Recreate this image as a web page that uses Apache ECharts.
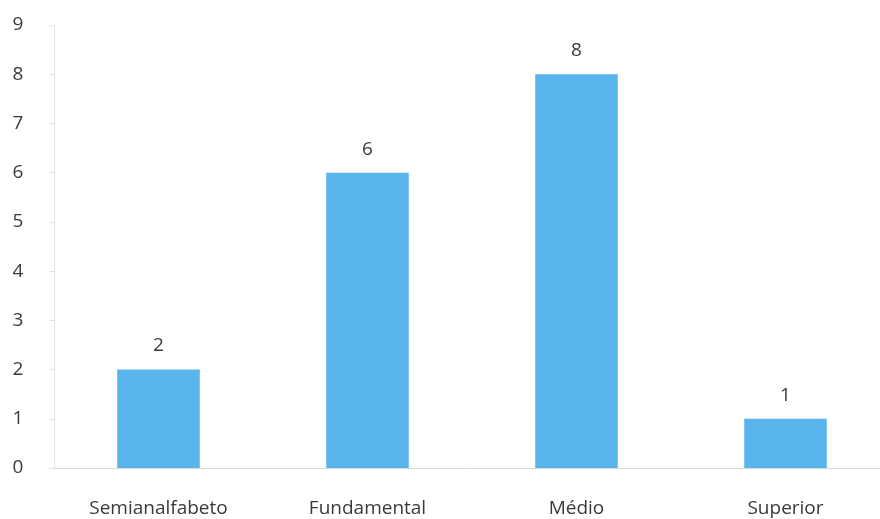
<!DOCTYPE html>
<html>
<head>
<meta charset="utf-8">
<script src="https://cdn.jsdelivr.net/npm/echarts@6/dist/echarts.min.js"></script>
<style>
  html, body { margin: 0; padding: 0; background: #fff; }
  #chart { width: 880px; height: 519px; }
</style>
</head>
<body>
<div id="chart"></div>
<script>
const categories = ["Semianalfabeto", "Fundamental", "Médio", "Superior"];
const values = [2, 6, 8, 1];
const yTicks = [0, 1, 2, 3, 4, 5, 6, 7, 8, 9];

const chart = echarts.init(document.getElementById("chart"));

chart.setOption({
  animation: false,
  backgroundColor: "#ffffff",
  grid: { left: 54, width: 836, top: 25, bottom: 51, outerBoundsMode: "none" },
  xAxis: {
    type: "category",
    data: categories,
    axisLine: { lineStyle: { color: "#d9d9d9", width: 1 } },
    axisTick: { show: false },
    axisLabel: {
      margin: 31,
      fontSize: 19,
      color: "#3a3a3a",
      fontFamily: "Open Sans",
    },
  },
  yAxis: {
    type: "value",
    min: yTicks[0],
    max: yTicks[yTicks.length - 1],
    interval: 1,
    axisLine: { show: true, lineStyle: { color: "#e3e3e3", width: 1 } },
    axisTick: { show: true, length: 5, inside: false, lineStyle: { color: "#e3e3e3" } },
    splitLine: { show: false },
    axisLabel: {
      margin: 36,
      fontSize: 19,
      color: "#3a3a3a",
      fontFamily: "Open Sans",
      align: "center",
    },
  },
  series: [
    {
      type: "bar",
      data: values,
      barWidth: "39.5%",
      itemStyle: { color: "#5ab4ec" },
      label: {
        show: true,
        position: "top",
        distance: 14,
        fontSize: 19,
        color: "#3a3a3a",
        fontFamily: "Open Sans",
      },
    },
  ],
});
</script>
</body>
</html>
